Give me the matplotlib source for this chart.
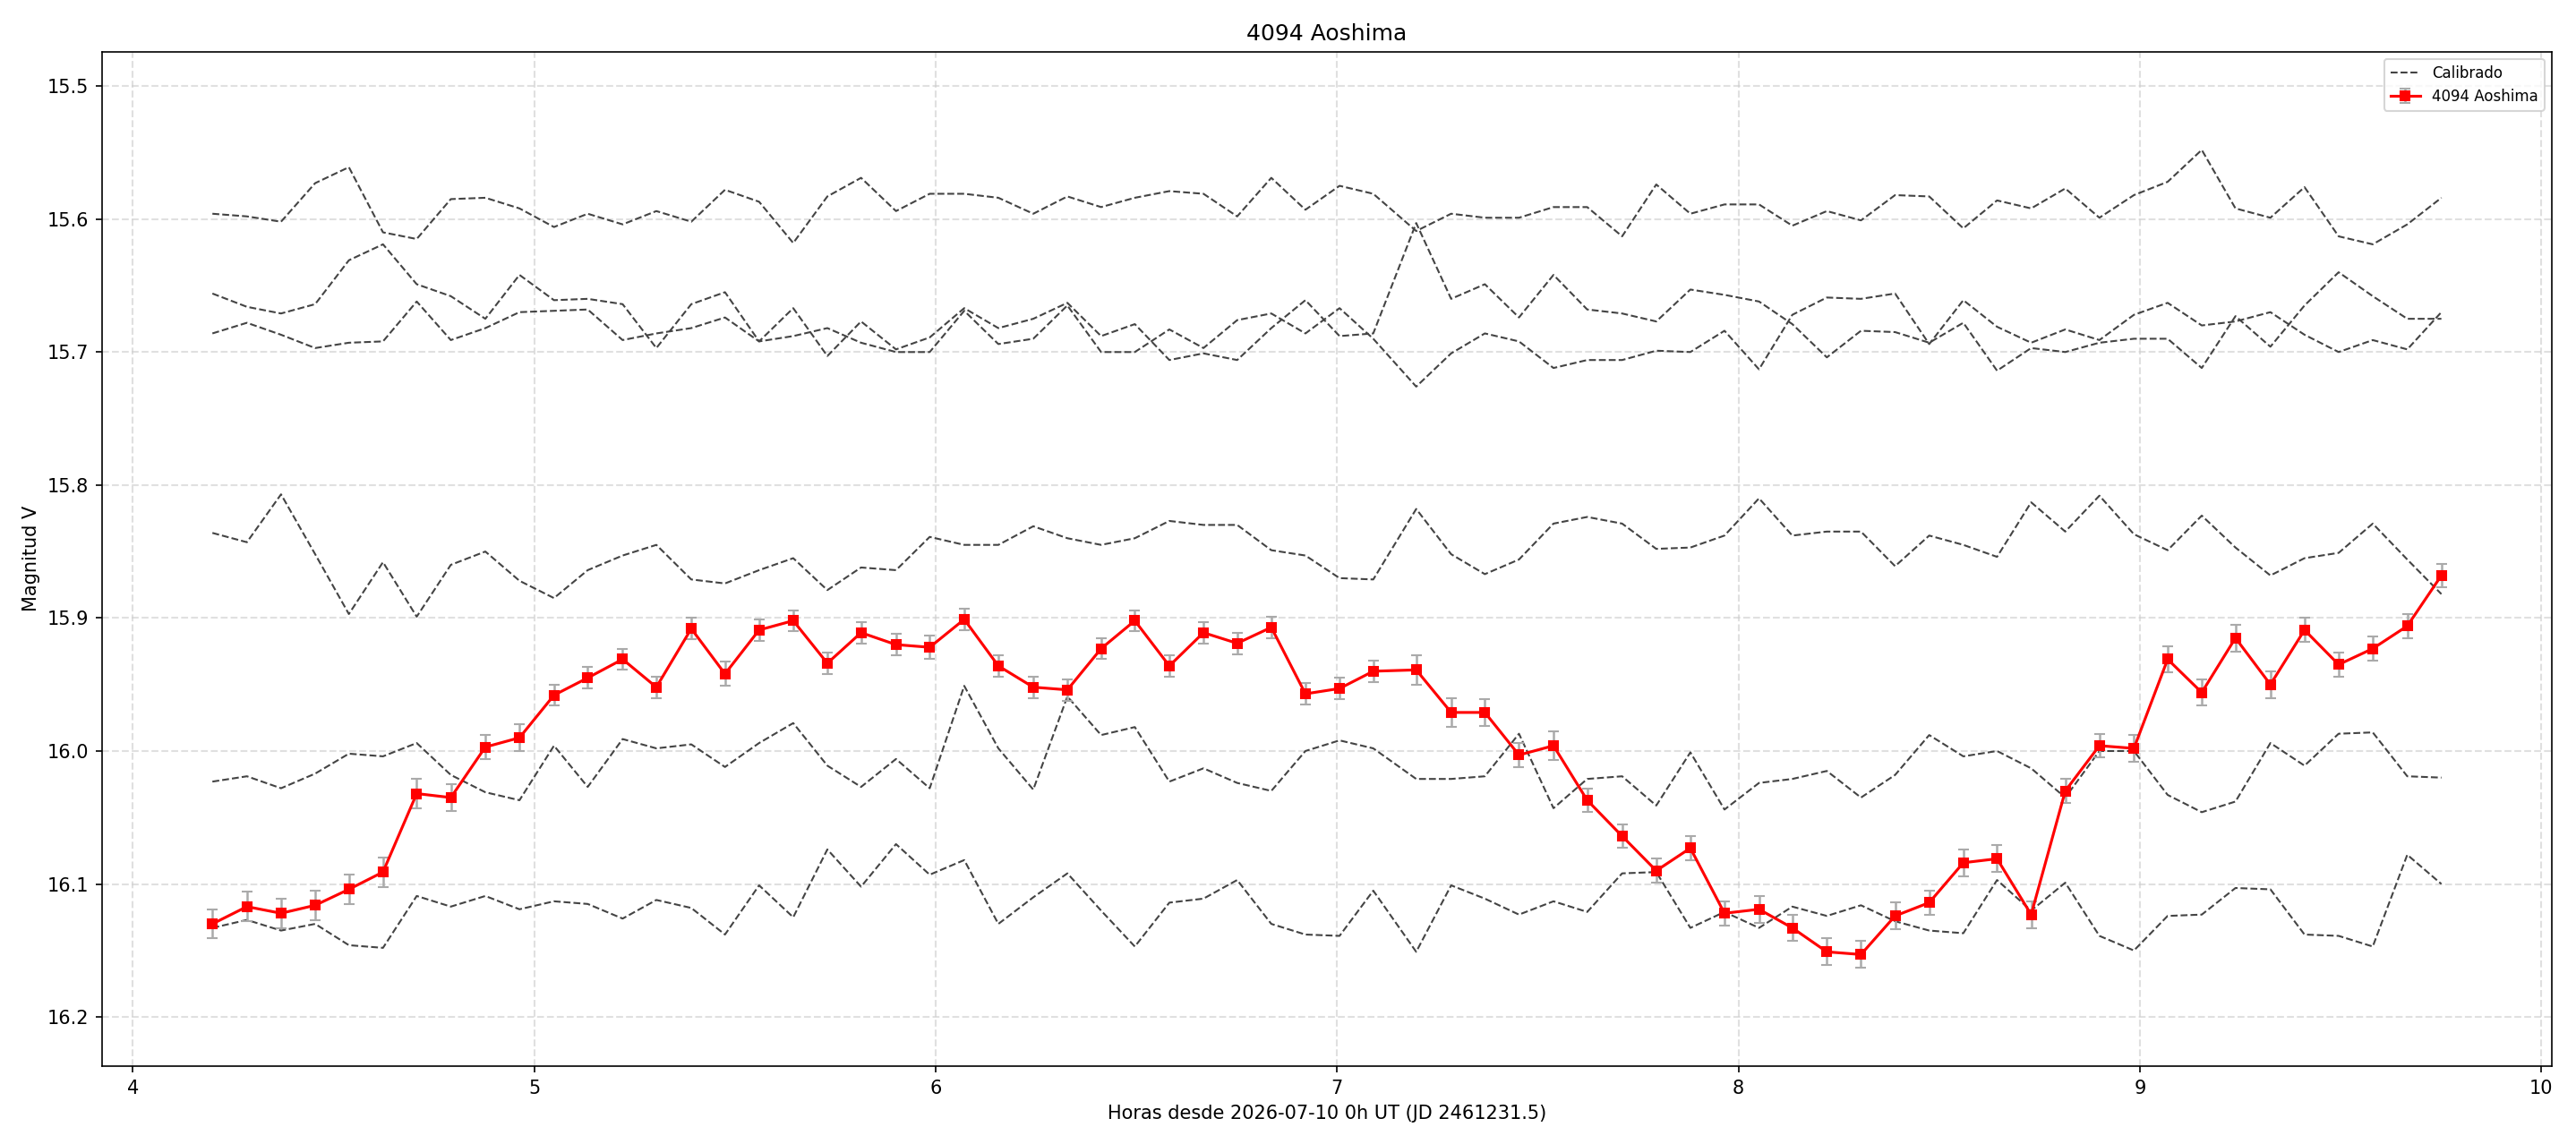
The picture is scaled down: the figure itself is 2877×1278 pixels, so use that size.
import matplotlib
matplotlib.use("Agg")
import matplotlib.pyplot as plt

# hours since 2026-07-10 0h UT
horas = [4.198, 4.284, 4.369, 4.454, 4.538, 4.623, 4.707, 4.792, 4.878, 4.963, 5.049, 5.133,
         5.220, 5.304, 5.391, 5.475, 5.560, 5.645, 5.730, 5.814, 5.901, 5.985, 6.071, 6.156,
         6.243, 6.328, 6.412, 6.496, 6.582, 6.667, 6.751, 6.836, 6.921, 7.006, 7.090,
         7.197, 7.284, 7.368, 7.453, 7.539, 7.623, 7.710, 7.795, 7.880, 7.965, 8.051, 8.134,
         8.220, 8.305, 8.390, 8.475, 8.560, 8.644, 8.729, 8.814, 8.899, 8.985, 9.069, 9.154,
         9.238, 9.325, 9.410, 9.495, 9.580, 9.666, 9.751]

# asteroid magnitudes and errors
mag_obj = [16.130, 16.117, 16.122, 16.116, 16.104, 16.091, 16.032, 16.035, 15.997, 15.990, 15.958, 15.945,
           15.931, 15.952, 15.908, 15.942, 15.909, 15.902, 15.934, 15.911, 15.920, 15.922, 15.901, 15.936,
           15.952, 15.954, 15.923, 15.902, 15.936, 15.911, 15.919, 15.907, 15.957, 15.953, 15.940,
           15.939, 15.971, 15.971, 16.003, 15.996, 16.037, 16.064, 16.090, 16.073, 16.122, 16.119, 16.133,
           16.151, 16.153, 16.124, 16.114, 16.084, 16.081, 16.123, 16.030, 15.996, 15.998, 15.931, 15.956,
           15.915, 15.950, 15.909, 15.935, 15.923, 15.906, 15.868]
err_obj = [0.011, 0.011, 0.011, 0.011, 0.011, 0.011, 0.011, 0.010, 0.009, 0.010, 0.008, 0.008,
           0.008, 0.008, 0.008, 0.009, 0.008, 0.008, 0.008, 0.008, 0.008, 0.009, 0.008, 0.008,
           0.008, 0.008, 0.008, 0.008, 0.008, 0.008, 0.008, 0.008, 0.008, 0.008, 0.008,
           0.011, 0.011, 0.010, 0.009, 0.011, 0.009, 0.009, 0.009, 0.009, 0.009, 0.010, 0.010,
           0.010, 0.010, 0.010, 0.009, 0.010, 0.010, 0.010, 0.009, 0.009, 0.010, 0.010, 0.010,
           0.010, 0.010, 0.009, 0.009, 0.009, 0.009, 0.009]

# calibrated comparison stars
cal_a = [15.596, 15.598, 15.602, 15.573, 15.561, 15.610, 15.615, 15.585, 15.584, 15.592, 15.606, 15.596,
         15.604, 15.594, 15.602, 15.578, 15.587, 15.618, 15.583, 15.569, 15.594, 15.581, 15.581, 15.584,
         15.596, 15.583, 15.591, 15.584, 15.579, 15.581, 15.598, 15.569, 15.593, 15.575, 15.581,
         15.609, 15.596, 15.599, 15.599, 15.591, 15.591, 15.613, 15.574, 15.596, 15.589, 15.589, 15.605,
         15.594, 15.601, 15.582, 15.583, 15.607, 15.586, 15.592, 15.577, 15.599, 15.582, 15.572, 15.548,
         15.592, 15.599, 15.576, 15.613, 15.619, 15.604, 15.584]
cal_b = [15.656, 15.666, 15.671, 15.664, 15.631, 15.619, 15.649, 15.658, 15.675, 15.642, 15.661, 15.660,
         15.664, 15.697, 15.664, 15.655, 15.692, 15.667, 15.703, 15.677, 15.698, 15.689, 15.667, 15.682,
         15.675, 15.663, 15.688, 15.679, 15.706, 15.701, 15.706, 15.682, 15.661, 15.688, 15.686,
         15.603, 15.660, 15.649, 15.674, 15.642, 15.668, 15.671, 15.677, 15.653, 15.657, 15.662, 15.679,
         15.704, 15.684, 15.685, 15.693, 15.678, 15.714, 15.697, 15.700, 15.693, 15.690, 15.690, 15.712,
         15.673, 15.696, 15.665, 15.640, 15.658, 15.675, 15.675]
cal_c = [15.686, 15.678, 15.687, 15.697, 15.693, 15.692, 15.662, 15.691, 15.682, 15.670, 15.669, 15.668,
         15.691, 15.686, 15.682, 15.674, 15.692, 15.688, 15.682, 15.693, 15.700, 15.700, 15.669, 15.694,
         15.690, 15.665, 15.700, 15.700, 15.683, 15.697, 15.676, 15.671, 15.686, 15.667, 15.690,
         15.726, 15.701, 15.686, 15.692, 15.712, 15.706, 15.706, 15.699, 15.700, 15.684, 15.713, 15.672,
         15.659, 15.660, 15.656, 15.694, 15.661, 15.681, 15.693, 15.683, 15.691, 15.672, 15.663, 15.680,
         15.677, 15.670, 15.687, 15.700, 15.691, 15.698, 15.670]
cal_d = [15.836, 15.843, 15.807, 15.852, 15.897, 15.858, 15.899, 15.860, 15.850, 15.872, 15.885, 15.864,
         15.853, 15.845, 15.871, 15.874, 15.864, 15.855, 15.879, 15.862, 15.864, 15.839, 15.845, 15.845,
         15.831, 15.840, 15.845, 15.840, 15.827, 15.830, 15.830, 15.849, 15.853, 15.870, 15.871,
         15.818, 15.852, 15.867, 15.856, 15.829, 15.824, 15.829, 15.848, 15.847, 15.838, 15.810, 15.838,
         15.835, 15.835, 15.861, 15.838, 15.845, 15.854, 15.813, 15.835, 15.808, 15.837, 15.849, 15.823,
         15.847, 15.868, 15.855, 15.851, 15.829, 15.856, 15.882]
cal_e = [16.023, 16.019, 16.028, 16.017, 16.002, 16.004, 15.994, 16.018, 16.031, 16.037, 15.996, 16.027,
         15.991, 15.998, 15.995, 16.012, 15.994, 15.979, 16.011, 16.027, 16.006, 16.028, 15.951, 15.998,
         16.029, 15.959, 15.988, 15.982, 16.023, 16.013, 16.024, 16.030, 16.000, 15.992, 15.998,
         16.021, 16.021, 16.019, 15.987, 16.043, 16.021, 16.019, 16.041, 16.001, 16.044, 16.024, 16.021,
         16.015, 16.035, 16.018, 15.988, 16.004, 16.000, 16.013, 16.035, 16.000, 16.000, 16.033, 16.046,
         16.038, 15.994, 16.011, 15.987, 15.986, 16.019, 16.020]
cal_f = [16.133, 16.127, 16.135, 16.130, 16.146, 16.148, 16.109, 16.117, 16.109, 16.119, 16.113, 16.115,
         16.126, 16.112, 16.118, 16.138, 16.101, 16.125, 16.074, 16.102, 16.070, 16.093, 16.082, 16.130,
         16.110, 16.092, 16.120, 16.147, 16.114, 16.111, 16.097, 16.130, 16.138, 16.139, 16.105,
         16.151, 16.101, 16.111, 16.123, 16.113, 16.121, 16.092, 16.091, 16.133, 16.121, 16.133, 16.117,
         16.124, 16.116, 16.128, 16.135, 16.137, 16.097, 16.120, 16.099, 16.139, 16.150, 16.124, 16.123,
         16.103, 16.104, 16.138, 16.139, 16.147, 16.078, 16.100]

fig, ax = plt.subplots(figsize=(19.18, 8.52), dpi=150)
fig.subplots_adjust(left=0.0396, right=0.9906, top=0.955, bottom=0.068)

calibradas = [cal_a, cal_b, cal_c, cal_d, cal_e, cal_f]
for k, serie in enumerate(calibradas):
    ax.plot(horas, serie, linestyle='--', color='#444444', lw=1.0,
            label='Calibrado' if k == 0 else None)

ax.errorbar(horas, mag_obj, yerr=err_obj, fmt='-s', color='red', ms=5, lw=1.5,
            ecolor='#aaaaaa', elinewidth=1.2, capsize=3, label='4094 Aoshima', zorder=3)

ax.set_xlim(3.923, 10.026)
ax.set_ylim(16.237, 15.474)
ax.grid(True, linestyle='--', color='#cccccc', alpha=0.6, lw=1.0)
ax.set_title('4094 Aoshima')
ax.set_xlabel('Horas desde 2026-07-10 0h UT (JD 2461231.5)')
ax.set_ylabel('Magnitud V')
ax.legend(loc='upper right', fontsize=8)

fig.savefig('out.png')
